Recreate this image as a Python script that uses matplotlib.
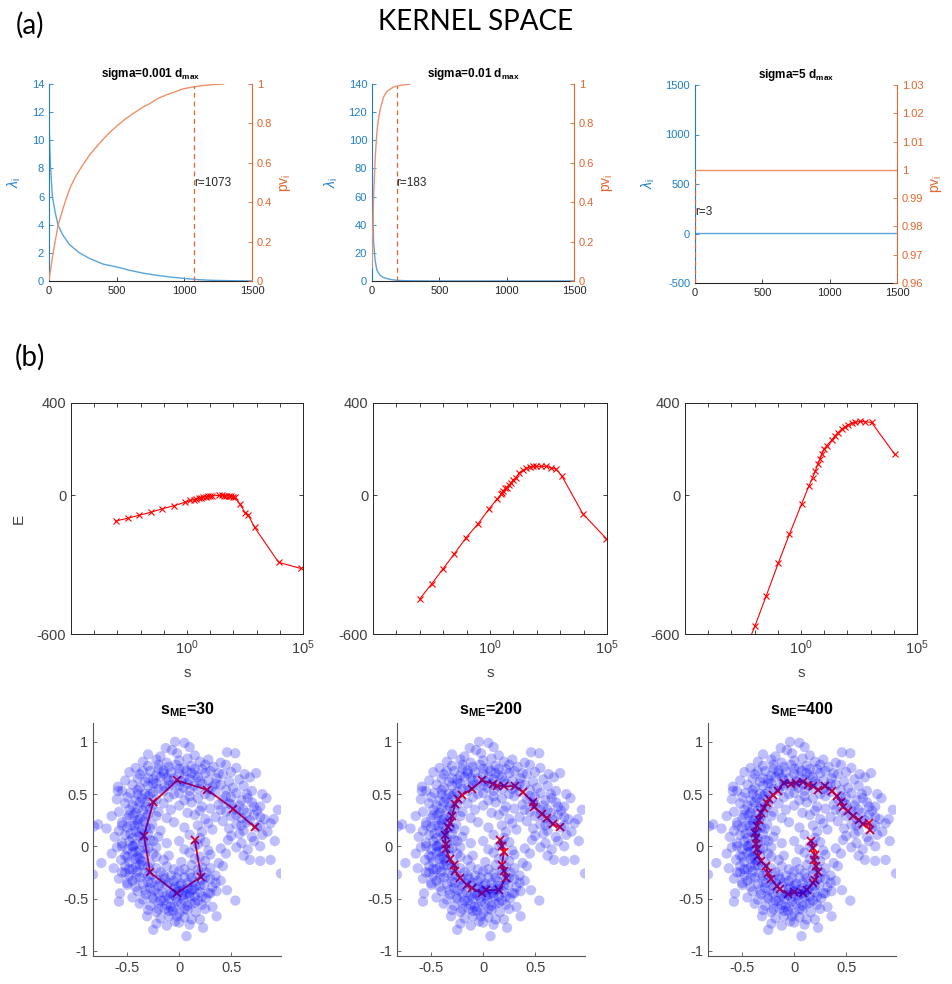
import numpy as np
import matplotlib
matplotlib.use("Agg")
import matplotlib.pyplot as plt
from matplotlib.ticker import NullLocator

plt.rcParams['font.family'] = ['Liberation Sans', 'DejaVu Sans']
plt.rcParams['mathtext.fontset'] = 'custom'
plt.rcParams['mathtext.rm'] = 'Liberation Sans'
plt.rcParams['mathtext.it'] = 'Liberation Sans:italic'
plt.rcParams['mathtext.bf'] = 'Liberation Sans:bold'
plt.rcParams['axes.unicode_minus'] = False

# ---------------- (a) kernel spectra: eigenvalues and cumulative variance -------------
lam1_i = [1, 3, 10, 25, 45, 66, 100, 150, 225, 300, 400, 500, 600, 700, 800, 900, 1000, 1100, 1200, 1350, 1500]
lam1_v = [11.5, 10.5, 8.3, 6.0, 4.9, 4.0, 3.3, 2.6, 2.0, 1.6, 1.2, 1.0, 0.75, 0.55, 0.4, 0.28, 0.18, 0.1, 0.05, 0.02, 0.0]
pv1_i = [1, 10, 30, 66, 100, 128, 160, 200, 251, 300, 374, 450, 498, 560, 621, 700, 744, 800, 867, 930,
         990, 1050, 1113, 1180, 1236, 1290]
pv1_v = [0.008, 0.05, 0.14, 0.28, 0.36, 0.42, 0.48, 0.535, 0.59, 0.64, 0.70, 0.755, 0.785, 0.82, 0.85, 0.885,
         0.90, 0.925, 0.945, 0.96, 0.975, 0.983, 0.99, 0.995, 0.998, 1.0]
r1 = 1073

lam2_i = [1, 3, 6, 12, 20, 25, 37, 50, 62, 85, 111, 150, 185, 250, 400, 1500]
lam2_v = [100, 70, 50, 27.7, 18, 13.5, 7.6, 5.5, 4.0, 2.5, 1.7, 0.9, 0.5, 0.2, 0.05, 0.0]
pv2_i = [1, 2, 5, 12, 25, 37, 50, 62, 86, 111, 160, 210, 284]
pv2_v = [0.067, 0.11, 0.25, 0.43, 0.64, 0.76, 0.83, 0.875, 0.934, 0.963, 0.985, 0.993, 1.0]
r2 = 183

lam3_i = [1, 2, 1500]
lam3_v = [1500, 0.0, 0.0]
pv3_i = [1, 1500]
pv3_v = [1.0, 1.0]
r3 = 3

spectra_titles = ['sigma=0.001 d$_{\\mathbf{max}}$', 'sigma=0.01 d$_{\\mathbf{max}}$',
                  'sigma=5 d$_{\\mathbf{max}}$']

# ---------------- (b) energy versus smoothing parameter (log10 s) --------------------
logs1 = [-3.08, -2.56, -2.06, -1.56, -1.07, -0.57, -0.07, 0.14, 0.30, 0.40, 0.50, 0.60, 0.70, 0.80,
         0.90, 1.00, 1.07, 1.40, 1.50, 1.60, 1.70, 1.80, 1.90, 2.00, 2.06, 2.27, 2.51, 2.63, 2.91, 3.95, 4.90]
E1 = [-111, -99, -86, -73, -58, -45, -29, -22, -18, -15, -12, -10, -8, -6,
      -4, -3, -2, 0, 0, -1, -2, -3, -4, -6, -8, -36, -75, -83, -138, -290, -316]

logs2 = [-3.0, -2.5, -2.0, -1.53, -1.03, -0.51, -0.03, 0.29, 0.47, 0.51, 0.57, 0.66, 0.71, 0.80, 0.90,
         0.98, 1.11, 1.26, 1.40, 1.54, 1.69, 1.83, 1.97, 2.19, 2.40, 2.61, 2.83, 3.07, 3.97, 4.97]
E2 = [-448, -384, -317, -254, -184, -123, -57, -17, 4, 12, 20, 30, 33, 43, 55,
      66, 77, 99, 109, 117, 123, 126, 126, 126, 126, 120, 113, 84, -80, -187]

logs3 = [-2.5, -1.98, -1.5, -0.97, -0.5, 0.03, 0.34, 0.5, 0.62, 0.72, 0.82, 0.89, 0.99, 1.10,
         1.32, 1.46, 1.60, 1.75, 1.89, 2.03, 2.18, 2.32, 2.54, 2.75, 3.04, 4.04]
E3 = [-693, -564, -435, -291, -168, -36, 41, 77, 106, 135, 157, 178, 200, 214,
      239, 258, 272, 287, 297, 306, 312, 316, 320, 319, 316, 178]

# ---------------- (b) data cloud and principal curves ------------------------------
cloud = [
    (-0.04, 1.00), (0.05, 0.99),
    (-0.13, 0.94), (-0.07, 0.92), (0.10, 0.95),
    (-0.30, 0.88), (-0.18, 0.86), (-0.02, 0.89), (0.15, 0.87), (0.46, 0.90), (0.54, 0.89),
    (-0.35, 0.81), (-0.22, 0.83), (-0.12, 0.80), (0.00, 0.82), (0.08, 0.84), (0.20, 0.81), (0.28, 0.83), (0.40, 0.80),
    (-0.42, 0.75), (-0.30, 0.77), (-0.20, 0.74), (-0.10, 0.76), (-0.03, 0.78), (0.05, 0.75), (0.12, 0.77),
    (0.22, 0.74), (0.33, 0.76), (0.45, 0.78), (0.55, 0.75),
    (-0.48, 0.71), (-0.38, 0.69), (-0.28, 0.72), (-0.22, 0.68), (-0.15, 0.70), (-0.08, 0.71), (0.00, 0.69),
    (0.07, 0.72), (0.15, 0.68), (0.25, 0.70), (0.30, 0.72), (0.42, 0.69), (0.50, 0.71), (0.63, 0.69), (0.74, 0.70),
    (-0.52, 0.63), (-0.40, 0.65), (-0.33, 0.62), (-0.25, 0.64), (-0.18, 0.66), (-0.10, 0.63), (-0.05, 0.65),
    (0.02, 0.62), (0.10, 0.64), (0.18, 0.66), (0.28, 0.63), (0.36, 0.65), (0.48, 0.62), (0.58, 0.64), (0.68, 0.66),
    (-0.59, 0.57), (-0.45, 0.59), (-0.38, 0.56), (-0.30, 0.58), (-0.22, 0.60), (-0.14, 0.57), (-0.06, 0.59),
    (0.04, 0.56), (0.14, 0.58), (0.22, 0.60), (0.32, 0.57), (0.40, 0.59), (0.52, 0.56), (0.62, 0.58),
    (-0.55, 0.53), (-0.47, 0.51), (-0.40, 0.54), (-0.33, 0.50), (-0.25, 0.52), (-0.15, 0.53), (0.00, 0.51),
    (0.10, 0.53), (0.25, 0.50), (0.35, 0.52), (0.45, 0.54), (0.55, 0.51), (0.70, 0.53), (0.80, 0.50),
    (-0.60, 0.45), (-0.50, 0.47), (-0.42, 0.44), (-0.36, 0.46), (-0.30, 0.48), (-0.22, 0.45), (-0.10, 0.47),
    (0.05, 0.44), (0.18, 0.46), (0.30, 0.48), (0.42, 0.45), (0.50, 0.47), (0.60, 0.44), (0.66, 0.46), (0.84, 0.46),
    (-0.52, 0.41), (-0.45, 0.39), (-0.38, 0.42), (-0.32, 0.38), (-0.25, 0.40), (-0.15, 0.41), (0.00, 0.39),
    (0.12, 0.42), (0.22, 0.38), (0.38, 0.40), (0.48, 0.41), (0.58, 0.39), (0.70, 0.42), (0.78, 0.38),
    (-0.58, 0.33), (-0.48, 0.35), (-0.42, 0.32), (-0.35, 0.34), (-0.28, 0.36), (-0.20, 0.33), (-0.08, 0.35),
    (0.08, 0.32), (0.20, 0.34), (0.30, 0.36), (0.45, 0.33), (0.55, 0.35), (0.65, 0.32), (0.75, 0.34), (0.95, 0.35),
    (-0.65, 0.29), (-0.50, 0.27), (-0.44, 0.30), (-0.38, 0.26), (-0.32, 0.28), (-0.22, 0.29), (-0.12, 0.27),
    (0.15, 0.30), (0.25, 0.26), (0.35, 0.28), (0.50, 0.29), (0.60, 0.27), (0.72, 0.30), (0.82, 0.26), (0.91, 0.26),
    (-0.78, 0.21), (-0.55, 0.23), (-0.46, 0.20), (-0.40, 0.22), (-0.34, 0.24), (-0.26, 0.21), (-0.05, 0.23),
    (0.18, 0.20), (0.28, 0.22), (0.42, 0.24), (0.55, 0.21), (0.65, 0.23), (0.78, 0.20), (0.88, 0.22),
    (-0.70, 0.17), (-0.58, 0.15), (-0.50, 0.18), (-0.42, 0.14), (-0.36, 0.16), (-0.28, 0.17), (-0.18, 0.15),
    (0.05, 0.18), (0.22, 0.14), (0.32, 0.16), (0.48, 0.17), (0.62, 0.15), (0.75, 0.18), (0.85, 0.14),
    (-0.82, 0.19), (-0.62, 0.09), (-0.52, 0.11), (-0.45, 0.08), (-0.38, 0.10), (-0.30, 0.12), (-0.20, 0.09),
    (0.10, 0.11), (0.20, 0.08), (0.50, 0.10), (0.58, 0.12), (0.70, 0.09), (0.80, 0.11),
    (-0.55, 0.03), (-0.48, 0.05), (-0.42, 0.02), (-0.35, 0.04), (-0.28, 0.06), (-0.12, 0.03), (0.00, 0.05),
    (0.18, 0.02), (0.25, 0.04), (0.47, 0.06), (0.60, 0.03), (0.72, 0.05), (0.92, 0.05),
    (-0.60, -0.01), (-0.50, -0.03), (-0.44, 0.00), (-0.38, -0.04), (-0.30, -0.02), (-0.22, -0.01), (0.05, -0.03),
    (0.15, 0.00), (0.28, -0.04), (0.40, -0.02), (0.55, -0.01), (0.66, -0.03), (0.78, 0.00),
    (-0.65, -0.07), (-0.52, -0.09), (-0.45, -0.06), (-0.40, -0.10), (-0.33, -0.08), (-0.25, -0.07), (-0.10, -0.09),
    (0.10, -0.06), (0.20, -0.10), (0.30, -0.08), (0.45, -0.07), (0.62, -0.09),
    (-0.75, -0.16), (-0.56, -0.13), (-0.48, -0.15), (-0.42, -0.12), (-0.36, -0.14), (-0.28, -0.16), (-0.15, -0.13),
    (0.02, -0.15), (0.15, -0.12), (0.25, -0.14), (0.38, -0.16), (0.68, -0.13), (0.78, -0.14), (0.88, -0.13),
    (-0.63, -0.21), (-0.52, -0.19), (-0.45, -0.22), (-0.38, -0.18), (-0.30, -0.20), (-0.22, -0.21), (-0.12, -0.19),
    (0.05, -0.22), (0.12, -0.18), (0.22, -0.20), (0.30, -0.21), (0.42, -0.19),
    (-0.83, -0.27), (-0.55, -0.25), (-0.48, -0.28), (-0.40, -0.24), (-0.34, -0.26), (-0.26, -0.27), (-0.18, -0.25),
    (-0.08, -0.28), (0.00, -0.24), (0.10, -0.26), (0.18, -0.27), (0.26, -0.25), (0.35, -0.28), (0.98, -0.26),
    (-0.58, -0.31), (-0.45, -0.33), (-0.38, -0.30), (-0.30, -0.34), (-0.22, -0.32), (-0.14, -0.31), (-0.05, -0.33),
    (0.05, -0.30), (0.14, -0.34), (0.22, -0.32), (0.30, -0.31), (0.40, -0.33), (-0.50, -0.35),
    (-0.50, -0.37), (-0.42, -0.39), (-0.35, -0.36), (-0.28, -0.40), (-0.20, -0.38), (-0.12, -0.37), (-0.04, -0.39),
    (0.02, -0.36), (0.08, -0.40), (0.16, -0.38), (0.24, -0.37), (0.32, -0.39), (0.46, -0.42),
    (-0.57, -0.45), (-0.40, -0.43), (-0.32, -0.46), (-0.24, -0.42), (-0.16, -0.44), (-0.08, -0.45), (0.00, -0.43),
    (0.06, -0.46), (0.12, -0.42), (0.20, -0.44), (0.28, -0.45), (0.36, -0.43),
    (-0.45, -0.49), (-0.35, -0.51), (-0.26, -0.48), (-0.18, -0.52), (-0.10, -0.50), (-0.03, -0.49), (0.04, -0.51),
    (0.10, -0.48), (0.18, -0.52), (0.26, -0.50), (0.54, -0.52),
    (-0.58, -0.53), (-0.38, -0.55), (-0.28, -0.57), (-0.20, -0.54), (-0.12, -0.56), (-0.05, -0.58), (0.02, -0.55),
    (0.08, -0.57), (0.15, -0.54), (0.22, -0.56), (0.32, -0.58),
    (-0.30, -0.61), (-0.22, -0.63), (-0.14, -0.60), (-0.06, -0.62), (0.00, -0.64), (0.08, -0.61), (0.16, -0.63),
    (0.25, -0.60), (0.36, -0.67),
    (-0.31, -0.67), (-0.18, -0.69), (-0.10, -0.67), (-0.04, -0.72), (0.05, -0.68), (0.12, -0.70), (0.20, -0.70),
    (-0.22, -0.74), (-0.12, -0.76), (0.00, -0.73), (0.10, -0.75), (0.23, -0.78),
    (-0.25, -0.80), (0.07, -0.86),
    (-0.05, -0.41), (0.03, -0.47), (-0.12, -0.47), (0.08, -0.35), (-0.02, -0.53), (0.14, -0.41), (-0.18, -0.35),
    (-0.08, -0.58), (-0.38, 0.13), (-0.42, -0.05), (-0.35, -0.18), (-0.30, 0.30), (-0.40, 0.25), (-0.15, 0.72),
    (0.05, 0.66), (-0.25, 0.60), (0.20, 0.62), (-0.59, 0.53),
    # denser band along the spiral
    (-0.27, -0.35), (-0.20, -0.45), (-0.10, -0.35), (0.00, -0.38), (0.10, -0.45), (0.20, -0.38), (0.25, -0.30),
    (-0.15, -0.28), (-0.02, -0.30), (0.12, -0.30), (-0.25, -0.50), (-0.15, -0.52), (-0.06, -0.47), (0.04, -0.42),
    (0.15, -0.48), (0.22, -0.48), (-0.10, -0.62), (0.05, -0.60), (0.12, -0.55), (-0.20, -0.60), (0.30, -0.45),
    (0.35, -0.35), (-0.33, -0.42), (-0.02, -0.67), (0.18, -0.22), (-0.05, -0.22),
    (-0.48, -0.22), (-0.42, -0.30), (-0.50, -0.10), (-0.45, 0.00), (-0.47, 0.12), (-0.43, 0.20), (-0.48, 0.30),
    (-0.40, 0.36), (-0.33, 0.42), (-0.38, -0.12), (-0.33, -0.02), (-0.35, 0.07), (-0.32, 0.18), (-0.42, -0.20),
    (-0.55, 0.00), (-0.55, 0.20), (-0.25, 0.05), (-0.22, -0.10), (-0.52, -0.25), (-0.30, -0.28),
    (-0.28, 0.50), (-0.20, 0.55), (-0.10, 0.58), (0.00, 0.58), (0.08, 0.60), (0.18, 0.55), (0.28, 0.55),
    (-0.12, 0.66), (0.00, 0.74), (0.12, 0.70), (-0.30, 0.65), (-0.40, 0.50), (-0.05, 0.50), (0.10, 0.48),
    (0.35, 0.60), (-0.20, 0.78), (0.25, 0.78), (0.38, 0.70), (-0.35, 0.72), (0.15, 0.74),
    (0.45, 0.48), (0.50, 0.40), (0.55, 0.30), (0.62, 0.35), (0.68, 0.25), (0.72, 0.38), (0.40, 0.35),
    (0.60, 0.20), (0.78, 0.28), (0.65, 0.50),
]

curve30_x = [0.15, 0.21, -0.02, -0.28, -0.34, -0.25, -0.02, 0.27, 0.52, 0.73]
curve30_y = [0.06, -0.29, -0.45, -0.25, 0.10, 0.42, 0.63, 0.54, 0.36, 0.18]

curve200_x = [0.165, 0.18, 0.20, 0.18, 0.20, 0.22, 0.15, 0.03, -0.01, -0.11, -0.16, -0.22, -0.27, -0.28,
              -0.32, -0.36, -0.36, -0.37, -0.34, -0.32, -0.30, -0.27, -0.24, -0.20, -0.11, -0.01, 0.09,
              0.13, 0.20, 0.31, 0.38, 0.48, 0.49, 0.57, 0.61, 0.67, 0.735]
curve200_y = [0.064, 0.0, -0.05, -0.18, -0.24, -0.30, -0.42, -0.42, -0.45, -0.40, -0.37, -0.30, -0.24, -0.18,
              -0.12, -0.03, 0.02, 0.11, 0.18, 0.22, 0.29, 0.40, 0.45, 0.49, 0.55, 0.63, 0.60,
              0.58, 0.575, 0.575, 0.52, 0.42, 0.38, 0.31, 0.27, 0.21, 0.185]

curve400_x = [0.165, 0.18, 0.20, 0.19, 0.21, 0.23, 0.20, 0.18, 0.12, 0.08, 0.00, -0.06, -0.14, -0.17, -0.22,
              -0.255, -0.27, -0.32, -0.345, -0.36, -0.365, -0.37, -0.38, -0.36, -0.335, -0.32, -0.29, -0.26,
              -0.24, -0.20, -0.16, -0.10, -0.03, 0.02, 0.08, 0.13, 0.18, 0.23, 0.30, 0.36, 0.41, 0.455,
              0.47, 0.52, 0.57, 0.62, 0.66, 0.72, 0.73]
curve400_y = [0.05, -0.02, -0.08, -0.13, -0.19, -0.25, -0.32, -0.35, -0.42, -0.45, -0.44, -0.46, -0.41, -0.38, -0.31,
              -0.26, -0.19, -0.14, -0.09, -0.03, 0.025, 0.08, 0.13, 0.19, 0.255, 0.32, 0.37, 0.415,
              0.45, 0.495, 0.53, 0.61, 0.60, 0.61, 0.62, 0.59, 0.575, 0.54, 0.575, 0.53, 0.48, 0.42,
              0.38, 0.335, 0.29, 0.255, 0.21, 0.22, 0.16]

curve_titles = ['s$_{\\mathbf{ME}}$=30', 's$_{\\mathbf{ME}}$=200', 's$_{\\mathbf{ME}}$=400']

# ---------------- styling ---------------------------------------------------------------
BLUE = '#1F7FC8'
BLUE_LINE = '#5AA5DC'
ORANGE = '#E0652E'
ORANGE_LINE = '#EE9068'
DARK = '#262626'
GRAY = '#404040'

W, H = 952, 984
fig = plt.figure(figsize=(W / 100, H / 100), dpi=100)


def rect(l, r, t, b):
    return [l / W, 1 - b / H, (r - l) / W, (b - t) / H]


def spectrum_panel(box, title, li, lv, pi, pv, r, r_top, r_label_y,
                   lam_lim, lam_ticks, pv_lim, pv_ticks):
    ax = fig.add_axes(rect(*box))
    ax2 = ax.twinx()
    ax.plot(li, lv, color=BLUE_LINE, lw=1.0)
    ax2.plot(pi, pv, color=ORANGE_LINE, lw=1.0)
    ax2.plot([r, r], [pv_lim[0], r_top], color=ORANGE, lw=0.9, ls=(0, (4, 3)))
    ax2.text(r, r_label_y, f'r={r}', fontsize=8.5, color=DARK, ha='left', va='center')
    ax.set_xlim(0, 1500)
    ax.set_xticks([0, 500, 1000, 1500])
    ax.set_ylim(*lam_lim)
    ax.set_yticks(lam_ticks)
    ax2.set_ylim(*pv_lim)
    ax2.set_yticks(pv_ticks)
    ax2.set_yticklabels([f'{v:g}' for v in pv_ticks])
    for a in (ax, ax2):
        a.spines['top'].set_visible(False)
    ax.spines['right'].set_visible(False)
    ax2.spines['left'].set_visible(False)
    ax2.spines['bottom'].set_visible(False)
    ax.spines['left'].set_color(BLUE)
    ax2.spines['right'].set_color(ORANGE)
    ax.spines['bottom'].set_color(DARK)
    for sp in ('left', 'bottom'):
        ax.spines[sp].set_linewidth(0.8)
    ax2.spines['right'].set_linewidth(0.8)
    ax.tick_params(axis='y', colors=BLUE, direction='in', labelsize=8, length=3, width=0.6)
    ax.tick_params(axis='x', colors=DARK, labelcolor=DARK, direction='in', labelsize=8, length=3, width=0.6)
    ax2.tick_params(axis='y', colors=ORANGE, direction='in', labelsize=8, length=3, width=0.6)
    ax.set_ylabel('$\\lambda_{\\mathrm{i}}$', color=BLUE, fontsize=10, labelpad=6)
    ax2.set_ylabel('$\\mathrm{pv_i}$', color=ORANGE, fontsize=10, labelpad=4)
    ax.set_title(title, fontsize=8.5, fontweight='bold', pad=5)
    return ax, ax2


spectrum_panel((49, 252, 84, 281), spectra_titles[0], lam1_i, lam1_v, pv1_i, pv1_v,
               r1, 0.99, 0.5, (0, 14), list(range(0, 15, 2)), (0, 1),
               [0, 0.2, 0.4, 0.6, 0.8, 1.0])
spectrum_panel((372, 574, 84, 281), spectra_titles[1], lam2_i, lam2_v, pv2_i, pv2_v,
               r2, 0.99, 0.5, (0, 140), list(range(0, 141, 20)), (0, 1),
               [0, 0.2, 0.4, 0.6, 0.8, 1.0])
spectrum_panel((695, 897, 85, 283), spectra_titles[2], lam3_i, lam3_v, pv3_i, pv3_v,
               r3, 1.0, 0.985, (-500, 1500), [-500, 0, 500, 1000, 1500], (0.96, 1.03),
               [0.96, 0.97, 0.98, 0.99, 1.0, 1.01, 1.02, 1.03])


def energy_panel(box, logs, E, ylabel=None):
    ax = fig.add_axes(rect(*box))
    ax.plot(10.0 ** np.asarray(logs), E, color='red', lw=0.8, marker='x', ms=5, mew=0.8)
    ax.set_xscale('log')
    ax.set_xlim(1e-5, 1e5)
    ax.set_ylim(-600, 400)
    decades = np.arange(-5, 6)
    ax.set_xticks(10.0 ** decades)
    ax.set_xticklabels(['$10^{%d}$' % d if d in (0, 5) else '' for d in decades])
    ax.xaxis.set_minor_locator(NullLocator())
    ax.set_yticks([-600, 0, 400])
    ax.tick_params(direction='in', top=True, right=True, labelsize=10.5,
                   colors=DARK, labelcolor=GRAY, length=3, width=0.6)
    for sp in ax.spines.values():
        sp.set_color(DARK)
        sp.set_linewidth(0.7)
    ax.set_xlabel('s', fontsize=11, color=GRAY, labelpad=6)
    if ylabel:
        ax.set_ylabel(ylabel, fontsize=11, color=GRAY, labelpad=8)
    return ax


energy_panel((71, 303, 403, 634), logs1, E1, ylabel='E')
energy_panel((373, 607, 403, 634), logs2, E2)
energy_panel((685, 917, 403, 634), logs3, E3)

cloud_x = [p[0] for p in cloud]
cloud_y = [p[1] for p in cloud]


def curve_panel(box, title, cx, cy):
    ax = fig.add_axes(rect(*box))
    ax.plot(cx, cy, color='red', lw=1.3, zorder=1)
    ax.plot(cx, cy, ls='none', marker='x', color='red', ms=6, mew=1.3, zorder=1)
    ax.scatter(cloud_x, cloud_y, s=55, c='blue', alpha=0.25, edgecolors='none', zorder=2)
    ax.set_xlim(-0.83, 0.98)
    ax.set_ylim(-1.05, 1.18)
    ax.set_xticks([-0.5, 0, 0.5])
    ax.set_xticklabels(['-0.5', '0', '0.5'])
    ax.set_yticks([-1, -0.5, 0, 0.5, 1])
    ax.set_yticklabels(['-1', '-0.5', '0', '0.5', '1'])
    ax.spines['top'].set_visible(False)
    ax.spines['right'].set_visible(False)
    for sp in ('left', 'bottom'):
        ax.spines[sp].set_color('#555555')
        ax.spines[sp].set_linewidth(0.8)
    ax.tick_params(direction='in', labelsize=10.5, colors='#555555', labelcolor=GRAY,
                   length=3, width=0.6)
    ax.set_title(title, fontsize=11.5, fontweight='bold', pad=6)
    return ax


curve_panel((93, 281, 723, 956), curve_titles[0], curve30_x, curve30_y)
curve_panel((397, 585, 723, 956), curve_titles[1], curve200_x, curve200_y)
curve_panel((708, 896, 723, 956), curve_titles[2], curve400_x, curve400_y)

fig.text(30 / W, 1 - 25 / H, '(a)', fontsize=20, family='Lato', ha='center', va='center')
fig.text(476 / W, 1 - 22 / H, 'KERNEL SPACE', fontsize=20, family='Lato', ha='center', va='center')
fig.text(30 / W, 1 - 357 / H, '(b)', fontsize=20, family='Lato', ha='center', va='center')

fig.savefig('out.png', dpi=100)
